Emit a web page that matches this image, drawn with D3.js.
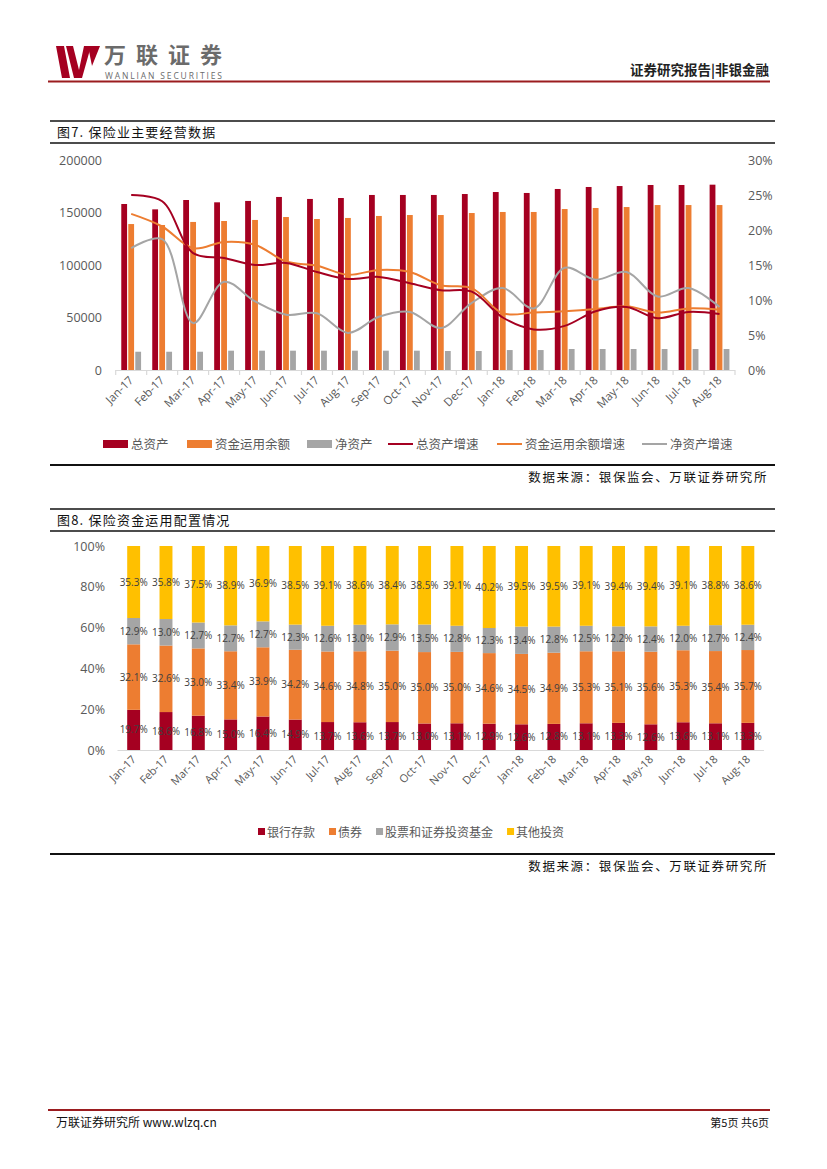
<!DOCTYPE html>
<html>
<head>
<meta charset="utf-8">
<script src="https://cdn.jsdelivr.net/npm/d3@7"></script>
<style>
  body { margin: 0; background: #fff; }
  svg { display: block; }
  text { font-family: "Open Sans", "Noto Sans", sans-serif; }
  .cjk { font-family: "Noto Sans CJK SC", sans-serif; }
</style>
</head>
<body>
<svg id="page" width="827" height="1169"></svg>
<script>
// 月份
var months = ["Jan-17", "Feb-17", "Mar-17", "Apr-17", "May-17", "Jun-17", "Jul-17", "Aug-17", "Sep-17", "Oct-17",
    "Nov-17", "Dec-17", "Jan-18", "Feb-18", "Mar-18", "Apr-18", "May-18", "Jun-18", "Jul-18", "Aug-18"];

// 图7 (亿元, 增速 %)
var totalAssets = [158100, 153000, 161900, 159700, 161000, 164800, 162900, 163800, 166700, 166700,
    166700, 167600, 169500, 168600, 172400, 174300, 175200, 176200, 176200, 176500];
var fundBalance = [139000, 138100, 141000, 141900, 142900, 145700, 143800, 144800, 146700, 147600,
    147600, 149500, 150500, 150500, 153300, 154300, 155200, 157100, 157100, 157100];
var netAssets = [17400, 17400, 17400, 18400, 18400, 18400, 18400, 18400, 18400, 18400,
    18100, 18100, 19000, 19000, 20000, 20000, 20000, 20000, 20000, 20000];
var totalGrowth = [25.0, 24.1, 16.7, 16.0, 15.0, 15.3, 14.0, 13.0, 13.3, 12.4,
    11.4, 11.2, 7.5, 5.8, 6.3, 8.4, 9.0, 7.4, 8.3, 8.0];
var fundGrowth = [22.3, 20.5, 17.4, 18.3, 17.9, 15.5, 14.9, 13.6, 14.3, 14.0,
    12.1, 11.7, 8.1, 8.2, 8.4, 8.7, 9.1, 8.2, 8.8, 8.6];
var netGrowth = [17.4, 18.7, 6.7, 12.6, 9.8, 7.9, 8.1, 5.3, 7.6, 8.3,
    6.0, 9.6, 11.7, 8.8, 14.6, 12.9, 14.0, 10.5, 11.7, 9.0];
var leftTicks = [0, 50000, 100000, 150000, 200000];
var rightTicks = [0, 5, 10, 15, 20, 25, 30];

// 图8 (%)
var bankDeposit = [19.7, 18.6, 16.8, 15.0, 16.4, 14.9, 13.7, 13.6, 13.7, 13.0,
    13.1, 12.9, 12.6, 12.8, 13.1, 13.3, 12.6, 13.6, 13.1, 13.3];
var bonds = [32.1, 32.6, 33.0, 33.4, 33.9, 34.2, 34.6, 34.8, 35.0, 35.0,
    35.0, 34.6, 34.5, 34.9, 35.3, 35.1, 35.6, 35.3, 35.4, 35.7];
var stocks = [12.9, 13.0, 12.7, 12.7, 12.7, 12.3, 12.6, 13.0, 12.9, 13.5,
    12.8, 12.3, 13.4, 12.8, 12.5, 12.2, 12.4, 12.0, 12.7, 12.4];
var others = [35.3, 35.8, 37.5, 38.9, 36.9, 38.5, 39.1, 38.6, 38.4, 38.5,
    39.1, 40.2, 39.5, 39.5, 39.1, 39.4, 39.4, 39.1, 38.8, 38.6];
var pctTicks = [0, 20, 40, 60, 80, 100];

var RED = "#A50021", ORANGE = "#ED7D31", GRAY = "#A5A5A5", YELLOW = "#FFC000", AXIS = "#595959";

var svg = d3.select("#page");

drawHeader();
drawChart1();
drawChart2();
drawFooter();

function drawHeader() {
    var g = svg.append("g");
    // logo W
    g.append("path").attr("d", "M56,46 L64,46 L70,78 L62,78 Z").attr("fill", RED);
    g.append("path").attr("d", "M66,46 L73,46 L79,70 L84,46 L91,46 L82,78 L74,78 Z").attr("fill", RED);
    g.append("path").attr("d", "M88,46 L100,46 L92,66 Z").attr("fill", RED);
    g.append("text").attr("class", "cjk").attr("x", 104).attr("y", 63)
        .attr("font-size", 22).attr("font-weight", "bold").attr("fill", "#6b6b6b")
        .attr("textLength", 118).text("万联证券");
    g.append("text").attr("x", 105).attr("y", 79)
        .attr("font-size", 8.5).attr("fill", "#6b6b6b").attr("textLength", 117)
        .text("WANLIAN SECURITIES");
    g.append("text").attr("class", "cjk").attr("x", 769).attr("y", 75)
        .attr("text-anchor", "end").attr("font-size", 13.5).attr("font-weight", "bold")
        .attr("fill", "#222").text("证券研究报告|非银金融");
    g.append("line").attr("x1", 48).attr("x2", 770).attr("y1", 81.5).attr("y2", 81.5)
        .attr("stroke", "#9B1C1F").attr("stroke-width", 2);
}

function frame(top, mid, bottom, title, sourceY) {
    var g = svg.append("g");
    g.append("line").attr("x1", 50).attr("x2", 775).attr("y1", top).attr("y2", top)
        .attr("stroke", "#111").attr("stroke-width", 1.6);
    g.append("line").attr("x1", 50).attr("x2", 775).attr("y1", mid).attr("y2", mid)
        .attr("stroke", "#111").attr("stroke-width", 1.6);
    g.append("line").attr("x1", 50).attr("x2", 775).attr("y1", bottom).attr("y2", bottom)
        .attr("stroke", "#111").attr("stroke-width", 2);
    g.append("text").attr("class", "cjk").attr("x", 57).attr("y", (top + mid) / 2 + 5)
        .attr("font-size", 13).attr("letter-spacing", 1.2).attr("fill", "#111").text(title);
    g.append("text").attr("class", "cjk").attr("x", 768).attr("y", sourceY)
        .attr("text-anchor", "end").attr("font-size", 12.5).attr("letter-spacing", 1.6)
        .attr("fill", "#111").text("数据来源：银保监会、万联证券研究所");
}

function drawChart1() {
    frame(121, 143, 465, "图7. 保险业主要经营数据", 482);

    var x = d3.scaleBand().domain(months).range([115.7, 735]);
    var yL = d3.scaleLinear().domain([0, 200000]).range([370, 160]);
    var yR = d3.scaleLinear().domain([0, 30]).range([370, 160]);
    var g = svg.append("g");

    // 坐标轴刻度
    g.selectAll(".yl").data(leftTicks).enter().append("text")
        .attr("x", 102).attr("y", function(d) { return yL(d) + 4.5; })
        .attr("text-anchor", "end").attr("font-size", 12.5).attr("fill", AXIS)
        .text(d3.format("d"));
    g.selectAll(".yr").data(rightTicks).enter().append("text")
        .attr("x", 748).attr("y", function(d) { return yR(d) + 4.5; })
        .attr("font-size", 12.5).attr("fill", AXIS)
        .text(function(d) { return d + "%"; });

    var series = [
        { vals: totalAssets, color: RED, off: -7 },
        { vals: fundBalance, color: ORANGE, off: 0 },
        { vals: netAssets, color: GRAY, off: 7 }
    ];
    series.forEach(function(s) {
        g.append("g").selectAll("rect").data(s.vals).enter().append("rect")
            .attr("x", function(d, i) { return x(months[i]) + x.bandwidth() / 2 + s.off - 2.9; })
            .attr("width", 5.8)
            .attr("y", function(d) { return yL(d); })
            .attr("height", function(d) { return yL(0) - yL(d); })
            .attr("fill", s.color);
    });

    // x 轴
    var xa = g.append("g");
    xa.append("line").attr("x1", x.range()[0]).attr("x2", x.range()[1])
        .attr("y1", 370.5).attr("y2", 370.5).attr("stroke", "#D9D9D9").attr("stroke-width", 1.2);
    var bounds = months.map(function(m) { return x(m); }).concat([x.range()[1]]);
    xa.selectAll(".tk").data(bounds).enter().append("line")
        .attr("x1", function(d) { return d; }).attr("x2", function(d) { return d; })
        .attr("y1", 370).attr("y2", 375).attr("stroke", "#D9D9D9").attr("stroke-width", 1.2);
    xa.selectAll(".xl").data(months).enter().append("text")
        .attr("transform", function(d) {
            return "translate(" + (x(d) + x.bandwidth() / 2 + 3) + ",381) rotate(-45)";
        })
        .attr("text-anchor", "end").attr("font-size", 11.5).attr("fill", AXIS)
        .text(function(d) { return d; });

    // 增速曲线
    var line = d3.line()
        .x(function(d, i) { return x(months[i]) + x.bandwidth() / 2; })
        .y(function(d) { return yR(d); })
        .curve(d3.curveCatmullRom.alpha(0.5));
    [[netGrowth, GRAY], [fundGrowth, ORANGE], [totalGrowth, RED]].forEach(function(p) {
        g.append("path").attr("d", line(p[0])).attr("fill", "none")
            .attr("stroke", p[1]).attr("stroke-width", 2);
    });

    // 图例
    var legend = [
        { name: "总资产", color: RED, type: "rect", x: 103 },
        { name: "资金运用余额", color: ORANGE, type: "rect", x: 187 },
        { name: "净资产", color: GRAY, type: "rect", x: 307 },
        { name: "总资产增速", color: RED, type: "line", x: 388 },
        { name: "资金运用余额增速", color: ORANGE, type: "line", x: 497 },
        { name: "净资产增速", color: GRAY, type: "line", x: 642 }
    ];
    var lg = g.append("g");
    legend.forEach(function(l) {
        if (l.type === "rect") {
            lg.append("rect").attr("x", l.x).attr("y", 440).attr("width", 25).attr("height", 8).attr("fill", l.color);
        } else {
            lg.append("line").attr("x1", l.x).attr("x2", l.x + 25).attr("y1", 444).attr("y2", 444)
                .attr("stroke", l.color).attr("stroke-width", 2);
        }
        lg.append("text").attr("class", "cjk").attr("x", l.x + 28).attr("y", 449)
            .attr("font-size", 12.5).attr("fill", AXIS).text(l.name);
    });
}

function drawChart2() {
    frame(509, 531, 854, "图8. 保险资金运用配置情况", 871);

    var keys = ["bank", "bonds", "stocks", "others"];
    var colors = { bank: RED, bonds: ORANGE, stocks: GRAY, others: YELLOW };
    var rows = months.map(function(m, i) {
        return { month: m, bank: bankDeposit[i], bonds: bonds[i], stocks: stocks[i], others: others[i] };
    });
    var stacked = d3.stack().keys(keys).offset(d3.stackOffsetExpand)(rows);

    var x = d3.scaleBand().domain(months).range([117.5, 764]).paddingInner(0.6).paddingOuter(0.3);
    var y = d3.scaleLinear().domain([0, 1]).range([750, 546]);
    var g = svg.append("g");

    g.selectAll(".yl").data(pctTicks).enter().append("text")
        .attr("x", 105).attr("y", function(d) { return y(d / 100) + 4.5; })
        .attr("text-anchor", "end").attr("font-size", 12.5).attr("fill", AXIS)
        .text(function(d) { return d + "%"; });

    stacked.forEach(function(layer) {
        var lg = g.append("g");
        lg.selectAll("rect").data(layer).enter().append("rect")
            .attr("x", function(d) { return x(d.data.month); })
            .attr("width", x.bandwidth())
            .attr("y", function(d) { return y(d[1]); })
            .attr("height", function(d) { return y(d[0]) - y(d[1]); })
            .attr("fill", colors[layer.key]);
    });
    stacked.forEach(function(layer) {
        g.append("g").selectAll("text").data(layer).enter().append("text")
            .attr("x", function(d) { return x(d.data.month) + x.bandwidth() / 2; })
            .attr("y", function(d) { return (y(d[0]) + y(d[1])) / 2 + 3.5; })
            .attr("text-anchor", "middle").attr("font-size", 10).attr("fill", "#404040")
            .text(function(d) { return d.data[layer.key].toFixed(1) + "%"; });
    });

    g.append("line").attr("x1", 117.5).attr("x2", 764).attr("y1", 750.5).attr("y2", 750.5)
        .attr("stroke", "#D9D9D9").attr("stroke-width", 1.2);
    g.selectAll(".xl").data(months).enter().append("text")
        .attr("transform", function(d) {
            return "translate(" + (x(d) + x.bandwidth() / 2 + 3) + ",760) rotate(-45)";
        })
        .attr("text-anchor", "end").attr("font-size", 11).attr("fill", AXIS)
        .text(function(d) { return d; });

    // 图例: 依次排列
    var legend = [
        { name: "银行存款", key: "bank" },
        { name: "债券", key: "bonds" },
        { name: "股票和证券投资基金", key: "stocks" },
        { name: "其他投资", key: "others" }
    ];
    var lg = g.append("g");
    var cx = 258;
    legend.forEach(function(l) {
        lg.append("rect").attr("x", cx).attr("y", 828).attr("width", 7).attr("height", 7)
            .attr("fill", colors[l.key]);
        var t = lg.append("text").attr("class", "cjk").attr("x", cx + 9).attr("y", 836.5)
            .attr("font-size", 12).attr("fill", AXIS).text(l.name);
        cx += 9 + t.node().getComputedTextLength() + 14;
    });
}

function drawFooter() {
    var g = svg.append("g");
    g.append("line").attr("x1", 48).attr("x2", 770).attr("y1", 1110).attr("y2", 1110)
        .attr("stroke", "#9B1C1F").attr("stroke-width", 2);
    g.append("text").attr("class", "cjk").attr("x", 56).attr("y", 1127)
        .attr("font-size", 12).attr("fill", "#111").text("万联证券研究所 www.wlzq.cn");
    g.append("text").attr("class", "cjk").attr("x", 769).attr("y", 1127)
        .attr("text-anchor", "end").attr("font-size", 11).attr("fill", "#111").text("第5页 共6页");
}
</script>
</body>
</html>
